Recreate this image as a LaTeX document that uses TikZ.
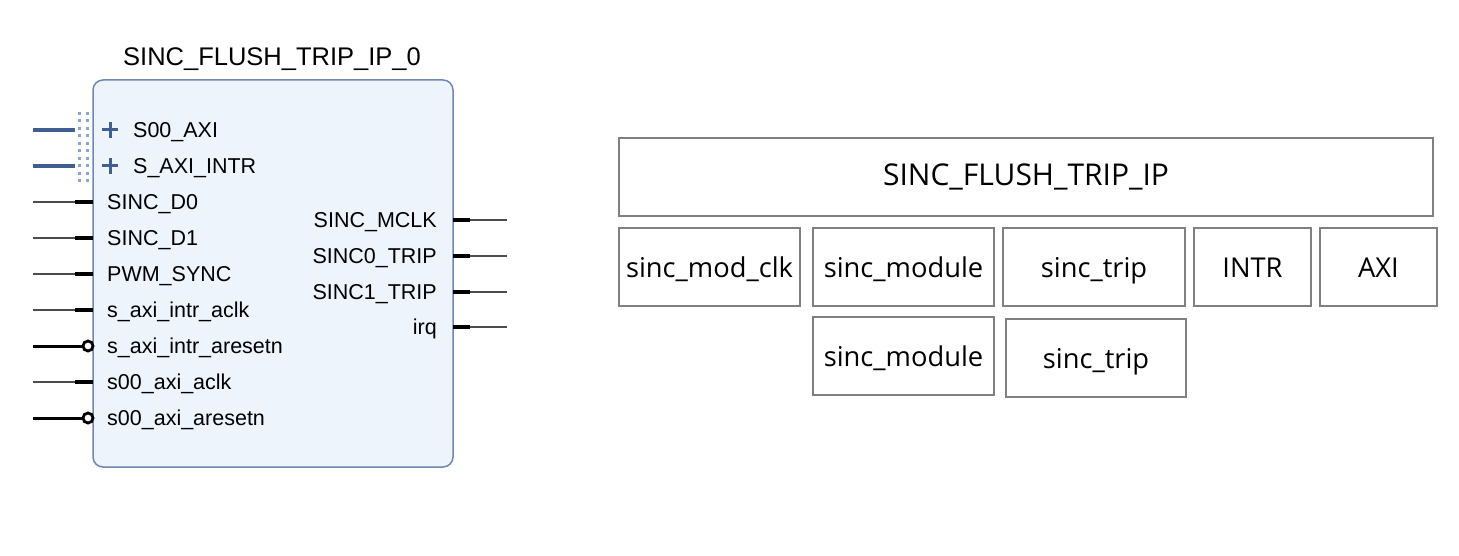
\documentclass[tikz,border=0pt]{standalone}
\usepackage{fontspec}
\setmainfont{Liberation Sans}
\newfontfamily\boxfont{Open Sans}
\definecolor{ipfill}{RGB}{237,244,252}
\definecolor{ipedge}{RGB}{112,136,176}
\definecolor{busblue}{RGB}{64,94,143}
\definecolor{dotblue}{RGB}{140,165,204}
\definecolor{boxedge}{RGB}{128,128,128}
\begin{document}
\begin{tikzpicture}[x=1pt,y=-1pt,
  ipblock/.style={draw=ipedge, fill=ipfill, line width=1.5pt, rounded corners=10pt, inner sep=0pt},
  iptitle/.style={font=\fontsize{25.5}{30}\selectfont, inner sep=0pt},
  pinlabel/.style={font=\fontsize{21.5}{26}\selectfont, inner sep=0pt},
  thinwire/.style={draw=black!70, line width=1.2pt},
  stub/.style={draw=black, line width=4pt},
  buswire/.style={draw=busblue, line width=4pt},
  resetwire/.style={draw=black, line width=3pt},
  bubble/.style={circle, draw=black, line width=2.8pt, fill=white, minimum size=10pt, inner sep=0pt},
  plussign/.style={draw=busblue, line width=3pt},
  dotcol/.style={draw=dotblue, line width=3pt, dash pattern=on 3pt off 4.5pt},
  rbox/.style={draw=boxedge, line width=1.4pt, inner sep=0pt, minimum height=78pt,
    text height=24pt, text depth=4pt,
    font=\boxfont\fontsize{27.3}{32}\selectfont},
]
\useasboundingbox (0,0) rectangle (1459,556);

% ---------------- left: IP block ----------------
\node[ipblock, minimum width=360pt, minimum height=387pt] (ip) at (273,273.5) {};
\node[iptitle] (iptitle) at (272,59) {SINC\_FLUSH\_TRIP\_IP\_0};

% dotted bracket of bus interfaces
\coordinate (dA1) at (79,112); \coordinate (dA2) at (79,182);
\coordinate (dB1) at (87,112); \coordinate (dB2) at (87,182);
\draw[dotcol] (dA1) -- (dA2);
\draw[dotcol] (dB1) -- (dB2);

% bus pins
\foreach \i/\y/\t in {1/130/S00\_AXI, 2/166/S\_AXI\_INTR}{
  \coordinate (bo\i) at (33,\y);
  \coordinate (bi\i) at (75,\y);
  \draw[buswire] (bo\i) -- (bi\i);
  \coordinate (pc\i) at (110,\y);
  \draw[plussign] ([xshift=-8pt]pc\i) -- ([xshift=8pt]pc\i);
  \draw[plussign] ([yshift=-8pt]pc\i) -- ([yshift=8pt]pc\i);
  \node[pinlabel, anchor=base west] (bl\i) at (133,\y+7.5) {\t};
}

% plain input pins
\foreach \i/\y/\t in {3/202/SINC\_D0, 4/238/SINC\_D1, 5/274/PWM\_SYNC,
                      6/310/s\_axi\_intr\_aclk, 8/382/s00\_axi\_aclk}{
  \coordinate (lo\i) at (33,\y);
  \coordinate (lm\i) at (75,\y);
  \coordinate (li\i) at (93,\y);
  \draw[thinwire] (lo\i) -- (lm\i);
  \draw[stub] (lm\i) -- (li\i);
  \node[pinlabel, anchor=base west] (ll\i) at (107,\y+7.5) {\t};
}

% active-low reset pins
\foreach \i/\y/\t in {7/346/s\_axi\_intr\_aresetn, 9/418/s00\_axi\_aresetn}{
  \coordinate (lo\i) at (33,\y);
  \node[bubble] (bub\i) at (88,\y) {};
  \draw[resetwire] (lo\i) -- (bub\i.west);
  \node[pinlabel, anchor=base west] (ll\i) at (107,\y+7.5) {\t};
}

% output pins
\foreach \i/\y/\t in {1/220/SINC\_MCLK, 2/256/SINC0\_TRIP, 3/292/SINC1\_TRIP, 4/327/irq}{
  \coordinate (ri\i) at (453,\y);
  \coordinate (rm\i) at (470,\y);
  \coordinate (ro\i) at (507,\y);
  \draw[stub] (ri\i) -- (rm\i);
  \draw[thinwire] (rm\i) -- (ro\i);
  \node[pinlabel, anchor=base east] (rl\i) at (437,\y+7.5) {\t};
}

% ---------------- right: hierarchy boxes ----------------
\node[rbox, minimum width=814pt, text height=25pt, text depth=7pt,
      font=\boxfont\fontsize{30}{35}\selectfont] (top) at (1026,177) {SINC\_FLUSH\_TRIP\_IP};
\node[rbox, minimum width=181pt] (smc) at (709.5,267) {sinc\_mod\_clk};
\node[rbox, minimum width=181pt] (sm1) at (903.5,267) {sinc\_module};
\node[rbox, minimum width=182pt] (st1) at (1094,267) {sinc\_trip};
\node[rbox, minimum width=117pt] (intr) at (1252.5,267) {INTR};
\node[rbox, minimum width=117pt] (axi) at (1378.5,267) {AXI};
\node[rbox, minimum width=181pt] (sm2) at (903.5,356) {sinc\_module};
\node[rbox, minimum width=180pt] (st2) at (1096,358) {sinc\_trip};
\end{tikzpicture}
\end{document}
